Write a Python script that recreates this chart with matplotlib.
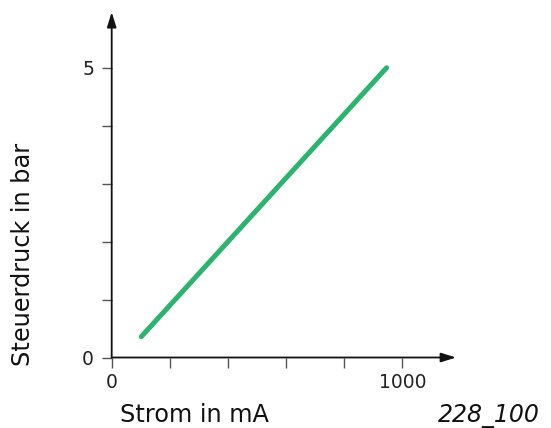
import matplotlib.pyplot as plt

# Kennlinie: Strom (mA) -> Steuerdruck (bar)
strom = [102, 946]
druck = [0.36, 5.0]

x_ticks = [0, 200, 400, 600, 800, 1000]
x_labels = ['0', '', '', '', '', '1000']
y_ticks = [0, 1, 2, 3, 4, 5]
y_labels = ['0', '', '', '', '', '5']

plt.rcParams['font.family'] = ['DejaVu Sans']

fig = plt.figure(figsize=(5.51, 4.28), dpi=100)
ax = fig.add_axes([0.2027, 0.1647, 0.625, 0.807])

ax.plot(strom, druck, color='#2ab46e', linewidth=3.6, solid_capstyle='round')

ax.set_xlim(0, 1185)
ax.set_ylim(0, 5.96)
for s in ax.spines.values():
    s.set_visible(False)

# Achsen mit Pfeilspitzen
pfeil = dict(arrowstyle='-|>,head_length=0.9,head_width=0.28', color='#111111',
             lw=1.3, shrinkA=0, shrinkB=0, mutation_scale=10)
ax.annotate('', xy=(1, 0), xytext=(0, 0), xycoords='axes fraction',
            arrowprops=pfeil, annotation_clip=False)
ax.annotate('', xy=(0, 1), xytext=(0, 0), xycoords='axes fraction',
            arrowprops=pfeil, annotation_clip=False)

ax.set_xticks(x_ticks)
ax.set_xticklabels(x_labels)
ax.set_yticks(y_ticks)
ax.set_yticklabels(y_labels)
ax.tick_params(length=7.2, width=1, color='#555555', labelsize=13.5, labelcolor='#222222')
ax.tick_params(axis='x', pad=3.6)
ax.tick_params(axis='y', pad=5.5)

fig.text(0.042, 0.406, 'Steuerdruck in bar', rotation=90, ha='center', va='center',
         fontsize=17.3, color='#111111')
fig.text(0.218, 0.014, 'Strom in mA', ha='left', va='baseline', fontsize=17.3, color='#111111')
fig.text(0.98, 0.014, '228_100', ha='right', va='baseline', fontsize=17, style='italic',
         color='#111111')

fig.savefig('out.png', dpi=100)
